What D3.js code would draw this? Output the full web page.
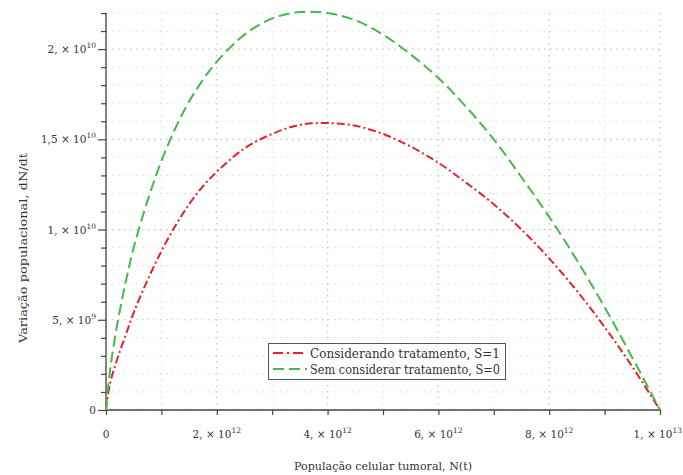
<!DOCTYPE html>
<html lang="pt">
<head>
<meta charset="UTF-8">
<title>dN/dt</title>
<style>
  body { margin: 0; background: #fff; }
  svg { display: block; background: #fff; font-family: 'DejaVu Serif', 'Liberation Serif', serif; }
  svg text { fill: #333; }
  .tick-label { font-size: 10.5px; }
  .axis-title { font-size: 11.5px; }
  .legend text { font-size: 12px; }
</style>
</head>
<body>
<div class="content"></div>
<script src="https://cdn.jsdelivr.net/npm/d3@7"></script>
<script>
  // data
  var popN = [0, 0.02e12, 0.05e12, 0.1e12, 0.2e12, 0.35e12, 0.5e12, 0.75e12, 1e12, 1.25e12, 1.5e12,
              1.75e12, 2e12, 2.5e12, 3e12, 3.5e12, 4e12, 4.5e12, 5e12, 5.5e12, 6e12, 6.5e12, 7e12, 7.5e12,
              8e12, 8.5e12, 9e12, 9.5e12, 10e12];
  var comTratamento = [0, 0.5e9, 1.1e9, 1.8e9, 2.8e9, 4.1e9, 5.4e9, 7.2e9, 8.8e9, 10.2e9, 11.4e9,
              12.4e9, 13.2e9, 14.5e9, 15.3e9, 15.8e9, 15.9e9, 15.75e9, 15.3e9, 14.6e9, 13.7e9, 12.6e9, 11.4e9, 10.0e9,
              8.4e9, 6.6e9, 4.6e9, 2.4e9, 0];
  var semTratamento = [0, 0.75e9, 1.6e9, 2.8e9, 4.7e9, 7.0e9, 9.0e9, 11.6e9, 13.8e9, 15.6e9, 17.1e9,
              18.3e9, 19.3e9, 20.8e9, 21.7e9, 22.05e9, 22.0e9, 21.6e9, 20.8e9, 19.7e9, 18.4e9, 16.8e9, 15.0e9, 12.9e9,
              10.7e9, 8.3e9, 5.7e9, 2.9e9, 0];
  var seriesNames = ["Considerando tratamento, S=1", "Sem considerar tratamento, S=0"];

  var xTickValues = [0, 2e12, 4e12, 6e12, 8e12, 1e13];
  var xTickLabels = ["0", "2, × 10^12", "4, × 10^12", "6, × 10^12", "8, × 10^12", "1, × 10^13"];
  var yTickValues = [0, 5e9, 1e10, 1.5e10, 2e10];
  var yTickLabels = ["0", "5, × 10^9", "1, × 10^10", "1,5 × 10^10", "2, × 10^10"];

  var width = 683, height = 475;
  var svg = d3.select(".content").append("svg")
    .attr("width", width)
    .attr("height", height);

  var x = d3.scaleLinear().domain([0, 1e13]).range([106, 660]);
  var y = d3.scaleLinear().domain([0, 2.2e10]).range([410, 13]);

  var xMinor = d3.range(0, 10.5e12, 1e12);
  var yMinor = d3.range(0, 22.5e9, 1e9);

  // grid
  var grid = svg.append("g").attr("class", "grid");
  grid.selectAll(".gx").data(xMinor).enter().append("line")
    .attr("x1", function (d) { return x(d); })
    .attr("x2", function (d) { return x(d); })
    .attr("y1", y(2.2e10)).attr("y2", y(0))
    .attr("stroke", function (d, i) { return i % 2 === 0 ? "#c4c4c4" : "#e2e2e2"; })
    .attr("stroke-width", 1.2)
    .attr("stroke-dasharray", "1.5,4.5");
  grid.selectAll(".gy").data(yMinor).enter().append("line")
    .attr("y1", function (d) { return y(d); })
    .attr("y2", function (d) { return y(d); })
    .attr("x1", x(0)).attr("x2", x(1e13))
    .attr("stroke", function (d, i) { return i % 5 === 0 ? "#c4c4c4" : "#e2e2e2"; })
    .attr("stroke-width", 1.2)
    .attr("stroke-dasharray", "1.5,4.5");

  // axes
  var xAxis = svg.append("g").attr("transform", "translate(0," + y(0) + ")")
    .call(d3.axisBottom(x).tickValues(xMinor).tickSize(5).tickFormat(""));
  var yAxis = svg.append("g").attr("transform", "translate(" + x(0) + ",0)")
    .call(d3.axisLeft(y).tickValues(yMinor).tickSize(5).tickFormat(""));
  [xAxis, yAxis].forEach(function (a) {
    a.select(".domain").attr("stroke", "#444").attr("stroke-width", 1.3);
    a.selectAll(".tick line").attr("stroke", "#444").attr("stroke-width", 1.2);
  });
  xAxis.select(".domain").attr("d", "M" + x(0) + ",0H" + x(1e13));
  yAxis.select(".domain").attr("d", "M0," + y(0) + "V" + y(2.2e10));
  yAxis.selectAll(".tick line").attr("x2", function (d) { return d % 5e9 === 0 ? -8 : -5; });

  function writeLabel(sel, s) {
    var parts = s.split("^");
    sel.append("tspan").text(parts[0]);
    if (parts[1]) {
      sel.append("tspan").attr("font-size", "7.5px").attr("dy", -5).text(parts[1]);
    }
  }

  var last = xTickValues.length - 1;
  svg.append("g").selectAll("text").data(xTickValues).enter().append("text")
    .attr("class", "tick-label")
    .attr("x", function (d, i) { return i === last ? 682 : x(d); })
    .attr("y", 438)
    .attr("text-anchor", function (d, i) { return i === last ? "end" : "middle"; })
    .each(function (d, i) { writeLabel(d3.select(this), xTickLabels[i]); });

  svg.append("g").selectAll("text").data(yTickValues).enter().append("text")
    .attr("class", "tick-label")
    .attr("x", 96)
    .attr("y", function (d) { return y(d) + 4; })
    .attr("text-anchor", "end")
    .each(function (d, i) { writeLabel(d3.select(this), yTickLabels[i]); });

  svg.append("text").attr("class", "axis-title")
    .attr("x", 294).attr("y", 470)
    .attr("textLength", 178).attr("lengthAdjust", "spacingAndGlyphs")
    .text("População celular tumoral, N(t)");
  svg.append("text").attr("class", "axis-title")
    .attr("transform", "translate(27,343) rotate(-90)")
    .attr("textLength", 190).attr("lengthAdjust", "spacingAndGlyphs")
    .text("Variação populacional, dN/dt");

  // curves
  var line = d3.line()
    .x(function (d) { return x(d[0]); })
    .y(function (d) { return y(d[1]); })
    .curve(d3.curveCatmullRom.alpha(0.5));

  var styles = [
    { color: "#e8212e", dash: "8,3,2,3" },
    { color: "#45b94b", dash: "11,5" }
  ];
  var series = [comTratamento, semTratamento];

  svg.append("g").selectAll("path").data(series).enter().append("path")
    .attr("d", function (s) { return line(popN.map(function (n, i) { return [n, s[i]]; })); })
    .attr("fill", "none")
    .attr("stroke", function (d, i) { return styles[i].color; })
    .attr("stroke-width", 2)
    .attr("stroke-dasharray", function (d, i) { return styles[i].dash; });

  // legend
  var legend = svg.append("g").attr("class", "legend");
  legend.append("rect")
    .attr("x", 268.5).attr("y", 343.5).attr("width", 237).attr("height", 36)
    .attr("fill", "#fff").attr("stroke", "#555").attr("stroke-width", 1);
  seriesNames.forEach(function (name, i) {
    var ly = 353 + i * 16;
    legend.append("line")
      .attr("x1", 273).attr("x2", 307).attr("y1", ly).attr("y2", ly)
      .attr("stroke", styles[i].color).attr("stroke-width", 2)
      .attr("stroke-dasharray", i === 0 ? "10,4,2,4" : "11,5");
    legend.append("text").attr("x", 310).attr("y", ly + 4.5)
      .attr("textLength", 190).attr("lengthAdjust", "spacingAndGlyphs")
      .text(name);
  });
</script>
</body>
</html>
